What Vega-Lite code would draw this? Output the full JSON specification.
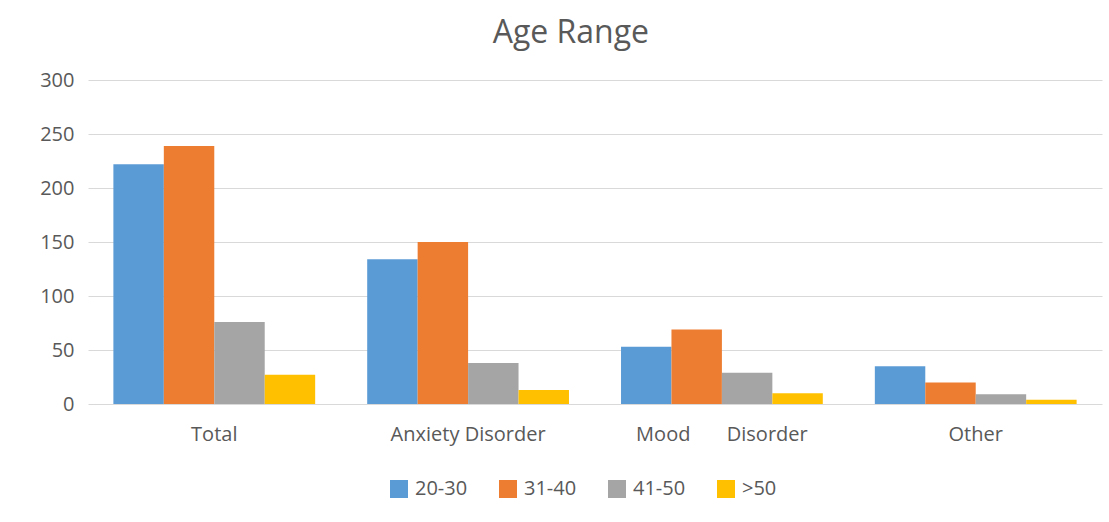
{
  "$schema": "https://vega.github.io/schema/vega-lite/v6.json",
  "width": 1014,
  "height": 324,
  "autosize": {"type": "none"},
  "padding": {"left": 88, "top": 80, "right": 7, "bottom": 118},
  "background": "white",
  "title": {"text": "Age Range", "fontSize": 32, "font": "Open Sans", "fontWeight": "normal", "color": "#595959", "anchor": "middle", "frame": "bounds", "offset": 20},
  "data": {"values": [
    {"condition": "Total", "age": "20-30", "count": 222},
    {"condition": "Total", "age": "31-40", "count": 239},
    {"condition": "Total", "age": "41-50", "count": 76},
    {"condition": "Total", "age": ">50", "count": 27},
    {"condition": "Anxiety Disorder", "age": "20-30", "count": 134},
    {"condition": "Anxiety Disorder", "age": "31-40", "count": 150},
    {"condition": "Anxiety Disorder", "age": "41-50", "count": 38},
    {"condition": "Anxiety Disorder", "age": ">50", "count": 13},
    {"condition": "Mood\u00a0\u00a0\u00a0\u00a0\u00a0\u00a0\u00a0Disorder", "age": "20-30", "count": 53},
    {"condition": "Mood\u00a0\u00a0\u00a0\u00a0\u00a0\u00a0\u00a0Disorder", "age": "31-40", "count": 69},
    {"condition": "Mood\u00a0\u00a0\u00a0\u00a0\u00a0\u00a0\u00a0Disorder", "age": "41-50", "count": 29},
    {"condition": "Mood\u00a0\u00a0\u00a0\u00a0\u00a0\u00a0\u00a0Disorder", "age": ">50", "count": 10},
    {"condition": "Other", "age": "20-30", "count": 35},
    {"condition": "Other", "age": "31-40", "count": 20},
    {"condition": "Other", "age": "41-50", "count": 9},
    {"condition": "Other", "age": ">50", "count": 4}
  ]},
  "mark": {"type": "bar"},
  "encoding": {
    "x": {
      "field": "condition", "type": "nominal",
      "sort": ["Total", "Anxiety Disorder", "Mood\u00a0\u00a0\u00a0\u00a0\u00a0\u00a0\u00a0Disorder", "Other"],
      "scale": {"paddingInner": 0.205, "paddingOuter": 0.1},
      "axis": {"title": null, "labelAngle": 0, "ticks": false, "domain": false, "labelPadding": 20, "labelFontSize": 20, "labelFont": "Open Sans", "labelColor": "#595959"}
    },
    "xOffset": {
      "field": "age", "type": "nominal",
      "sort": ["20-30", "31-40", "41-50", ">50"],
      "scale": {"paddingInner": 0, "paddingOuter": 0}
    },
    "y": {
      "field": "count", "type": "quantitative",
      "scale": {"domain": [0, 300], "nice": false},
      "axis": {"title": null, "values": [0, 50, 100, 150, 200, 250, 300], "domain": false, "ticks": false, "labelPadding": 14, "labelFontSize": 20, "labelFont": "Open Sans", "labelColor": "#595959", "gridColor": "#D9D9D9", "gridWidth": 1}
    },
    "color": {
      "field": "age", "type": "nominal",
      "sort": ["20-30", "31-40", "41-50", ">50"],
      "scale": {"domain": ["20-30", "31-40", "41-50", ">50"], "range": ["#5B9BD5", "#ED7D31", "#A5A5A5", "#FFC000"]},
      "legend": {"title": null, "orient": "none", "legendX": 301, "legendY": 399, "direction": "horizontal", "columns": 4, "symbolType": "square", "symbolSize": 324, "symbolStrokeWidth": 0, "labelFontSize": 20, "labelFont": "Open Sans", "labelColor": "#595959", "labelOffset": 6, "columnPadding": 30}
    }
  },
  "config": {"view": {"stroke": null}}
}
